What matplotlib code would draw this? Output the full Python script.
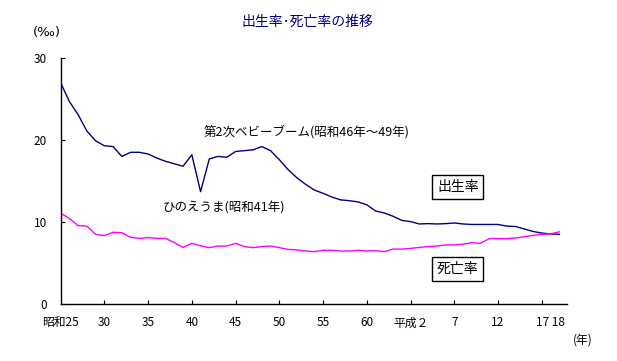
import matplotlib
matplotlib.use("Agg")
import matplotlib.pyplot as plt

plt.rcParams['font.family'] = ['Noto Sans CJK JP', 'DejaVu Sans']

# category positions 0..57 (昭和25 ... 平成18)
births = [27.0, 24.7, 23.1, 21.1, 19.9, 19.3, 19.2, 18.0, 18.5, 18.5,
          18.3, 17.8, 17.4, 17.1, 16.8, 18.2, 13.7, 17.7, 18.0, 17.9,
          18.6, 18.7, 18.8, 19.2, 18.7, 17.6, 16.4, 15.4, 14.6, 13.9,
          13.5, 13.05, 12.7, 12.6, 12.45, 12.1, 11.35, 11.1, 10.7, 10.2,
          10.05, 9.76, 9.8, 9.76, 9.8, 9.88, 9.76, 9.7, 9.7, 9.7,
          9.7, 9.5, 9.45, 9.15, 8.85, 8.65, 8.54, 8.5]
deaths = [11.06, 10.45, 9.55, 9.5, 8.5, 8.33, 8.74, 8.7, 8.13, 8.0,
          8.1, 8.0, 8.0, 7.48, 6.9, 7.4, 7.1, 6.87, 7.07, 7.07,
          7.4, 7.0, 6.87, 7.0, 7.07, 6.87, 6.66, 6.6, 6.46, 6.38,
          6.55, 6.55, 6.46, 6.46, 6.55, 6.46, 6.5, 6.38, 6.7, 6.7,
          6.78, 6.9, 7.0, 7.07, 7.2, 7.2, 7.3, 7.48, 7.4, 7.97,
          7.97, 7.97, 8.05, 8.2, 8.37, 8.5, 8.55, 8.8]

tick_pos = [0, 5, 10, 15, 20, 25, 30, 35, 40, 45, 50, 55]
tick_labels = ["昭和25", "30", "35", "40", "45", "50", "55", "60",
               "平成２", "7", "12", ""]
last_label_pos = [56]
last_label = ["17 18"]

x = list(range(len(births)))

fig = plt.figure(figsize=(6.17, 3.61), dpi=100)
ax = fig.add_axes([0.0982, 0.1579, 0.8203, 0.6814])

ax.plot(x, births, color="#000080", lw=1.0)
ax.plot(x, deaths, color="#FF00FF", lw=1.0)

ax.set_xlim(0, 57.85)
ax.set_ylim(0, 30)
ax.set_yticks([0, 10, 20, 30])
ax.set_xticks(tick_pos)
ax.set_xticklabels(tick_labels)
ax.set_xticks(last_label_pos, minor=True)
ax.set_xticklabels(last_label, minor=True)
ax.tick_params(direction="in", length=3, width=0.8, labelsize=8.5)
ax.tick_params(axis="x", which="both", pad=9)
ax.tick_params(axis="x", which="minor", length=0, labelsize=8.5)
ax.tick_params(axis="y", pad=10)
for side in ["top", "right"]:
    ax.spines[side].set_visible(False)
for side in ["left", "bottom"]:
    ax.spines[side].set_linewidth(1.0)

ax.text(16.4, 21.0, "第2次ベビーブーム(昭和46年～49年)", ha="left", va="center", fontsize=9)
ax.text(11.7, 11.7, "ひのえうま(昭和41年)", ha="left", va="center", fontsize=9)
box = dict(boxstyle="square,pad=0.35", fc="white", ec="black", lw=1.0)
ax.text(45.4, 14.3, "出生率", ha="center", va="center", fontsize=10, bbox=box)
ax.text(45.4, 4.27, "死亡率", ha="center", va="center", fontsize=10, bbox=box)

fig.text(0.4976, 0.939, "出生率･死亡率の推移", ha="center", va="center",
         fontsize=10, color="#000080")
fig.text(0.076, 0.909, "(‰)", ha="center", va="center", fontsize=9.5,
         family=["DejaVu Sans"])
fig.text(0.945, 0.058, "(年)", ha="center", va="center", fontsize=8.5)

fig.savefig("out.png", dpi=100)
